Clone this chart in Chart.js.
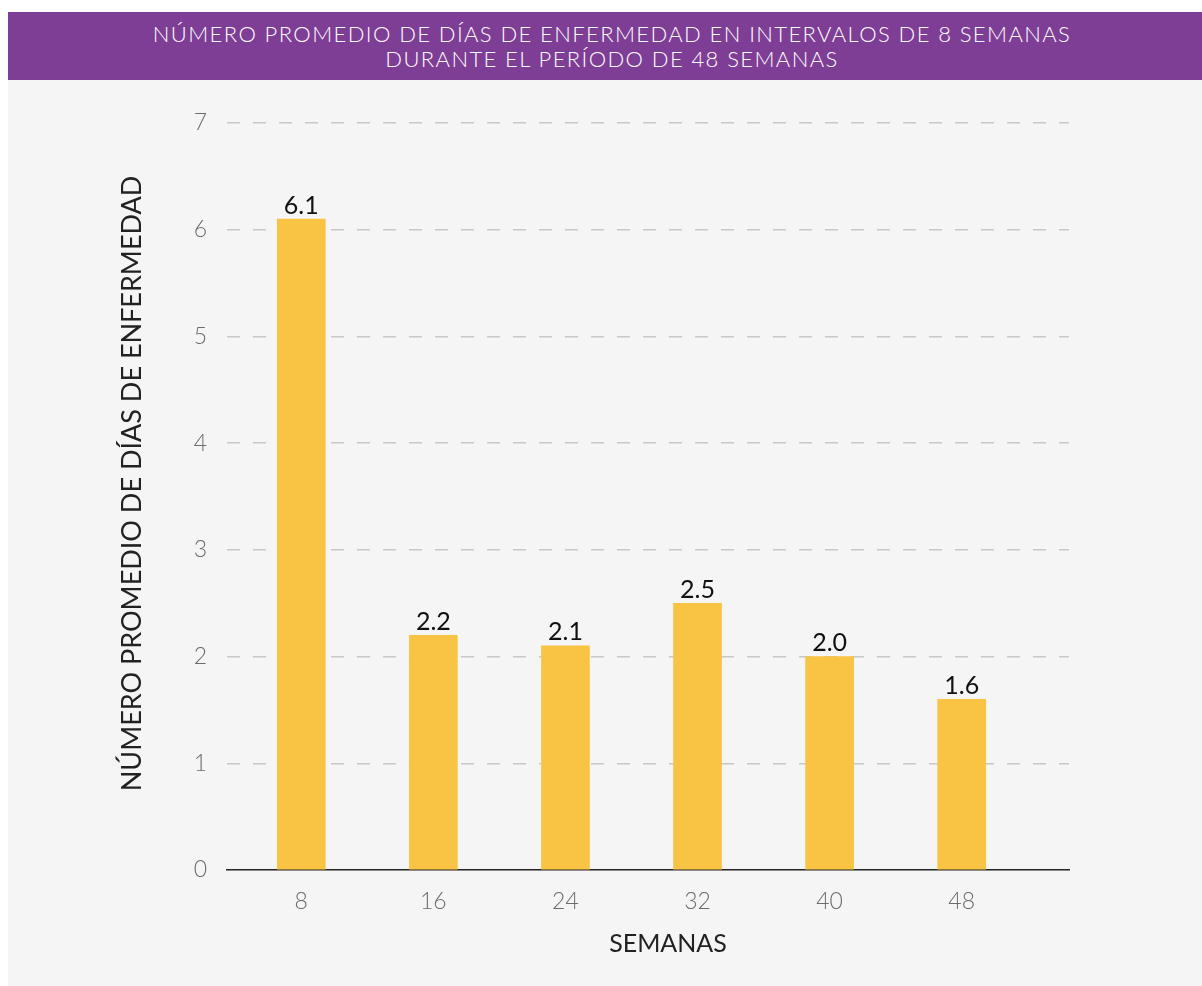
<!DOCTYPE html>
<html>
<head>
<meta charset="utf-8">
<script src="https://cdn.jsdelivr.net/npm/chart.js@4.4.0/dist/chart.umd.min.js"></script>
<style>
  body { margin: 0; background: #ffffff; font-family: Lato, "Noto Sans", sans-serif; }
  .banner {
    position: absolute; left: 8px; top: 12px; width: 1194px; height: 68px;
    background: #7e3e95; color: #ffffff; text-align: center;
    font-size: 22px; font-weight: 300; line-height: 25px; letter-spacing: 1.4px;
    box-sizing: border-box; padding-top: 9px; padding-left: 14px;
  }
  .panel {
    position: absolute; left: 8px; top: 80px; width: 1194px; height: 906px;
    background: #f5f5f5;
  }
</style>
</head>
<body>
<div class="banner">NÚMERO PROMEDIO DE DÍAS DE ENFERMEDAD EN INTERVALOS DE 8 SEMANAS<br>DURANTE EL PERÍODO DE 48 SEMANAS</div>
<div class="panel"><canvas id="chart" width="1194" height="906"></canvas></div>
<script>
const semanas = [8, 16, 24, 32, 40, 48];
const diasEnfermedad = [6.1, 2.2, 2.1, 2.5, 2.0, 1.6];
const yTicks = [0, 1, 2, 3, 4, 5, 6, 7];
const xTitle = "SEMANAS";
const yTitle = "NÚMERO PROMEDIO DE DÍAS DE ENFERMEDAD";

// etiquetas de valor encima de cada barra
const valueLabels = {
  id: "valueLabels",
  afterDatasetsDraw(chart) {
    const ctx = chart.ctx;
    const meta = chart.getDatasetMeta(0);
    ctx.save();
    ctx.font = "400 25px Lato";
    ctx.fillStyle = "#111111";
    ctx.textAlign = "center";
    ctx.textBaseline = "bottom";
    meta.data.forEach((bar, i) => {
      ctx.fillText(diasEnfermedad[i].toFixed(1), bar.x, bar.y - 1);
    });
    ctx.restore();
  },
};

// titulos de los ejes (no centrados en el area del grafico en el original)
const axisTitles = {
  id: "axisTitles",
  afterDraw(chart) {
    const ctx = chart.ctx;
    const area = chart.chartArea;
    ctx.save();
    ctx.fillStyle = "#222222";
    ctx.textAlign = "center";
    ctx.textBaseline = "middle";
    ctx.font = "400 25px Lato";
    ctx.fillText(xTitle, (area.left + area.right) / 2 + 20, area.bottom + 74);
    ctx.translate(124, (area.top + area.bottom) / 2 - 13);
    ctx.rotate(-Math.PI / 2);
    ctx.font = "400 27px Lato";
    ctx.fillText(yTitle, 0, 0);
    ctx.restore();
  },
};

new Chart(document.getElementById("chart"), {
  type: "bar",
  data: {
    datasets: [
      {
        data: semanas.map((s, i) => ({ x: s, y: diasEnfermedad[i] })),
        backgroundColor: "#f9c344",
        barThickness: 48,
      },
    ],
  },
  options: {
    responsive: false,
    animation: false,
    layout: { padding: { top: 43, right: 133, left: 0, bottom: 0 } },
    plugins: { legend: { display: false }, tooltip: { enabled: false } },
    scales: {
      x: {
        type: "linear",
        offset: false,
        min: 3.5,
        max: 54.5,
        afterBuildTicks: (s) => { s.ticks = semanas.map((v) => ({ value: v })); },
        afterFit: (s) => { s.height = 116; },
        grid: { display: false },
        border: { display: true, color: "#222222", width: 1.5 },
        ticks: { color: "#6b6b6b", font: { family: "Lato", size: 23, weight: "300" }, padding: 10 },
      },
      y: {
        min: 0,
        max: 7,
        afterBuildTicks: (s) => { s.ticks = yTicks.map((v) => ({ value: v })); },
        afterFit: (s) => { s.width = 219; },
        border: { display: false, dash: [13, 13] },
        grid: {
          color: (c) => (c.tick && c.tick.value === 0 ? "rgba(0,0,0,0)" : "#c8c8c8"),
          lineWidth: 1.5,
          drawTicks: false,
        },
        ticks: { color: "#6b6b6b", font: { family: "Lato", size: 23, weight: "300" }, padding: 20 },
      },
    },
  },
  plugins: [valueLabels, axisTitles],
});
</script>
</body>
</html>
